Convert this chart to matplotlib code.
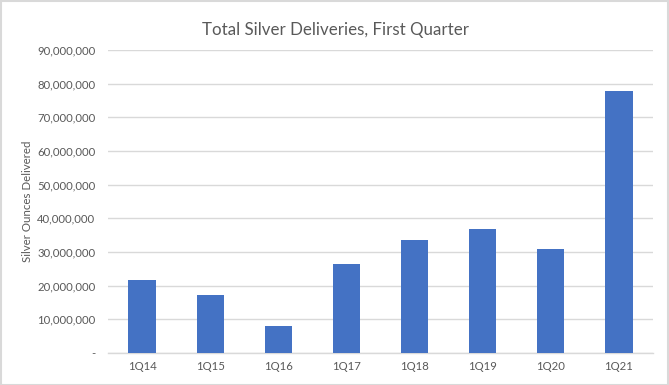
import numpy as np
import matplotlib.pyplot as plt
from matplotlib.ticker import FuncFormatter
from matplotlib.patches import Rectangle

# Data
quarters = ['1Q14', '1Q15', '1Q16', '1Q17', '1Q18', '1Q19', '1Q20', '1Q21']
ounces = [21800000, 17200000, 8100000, 26300000, 33700000, 36700000, 31000000, 77800000]
y_ticks = np.arange(0, 90000001, 10000000)

plt.rcParams['font.family'] = ['Lato', 'DejaVu Sans']
grey_text = '#595959'
grid_col = '#d9d9d9'

fig = plt.figure(figsize=(6.69, 3.85), dpi=100)
ax = fig.add_axes([0.1614, 0.0831, 0.8147, 0.7870])

x = np.arange(len(quarters))
ax.bar(x, ounces, width=0.4, color='#4472C4', zorder=3)

ax.set_xlim(-0.5, len(quarters) - 0.5)
ax.set_ylim(0, 90000000)
ax.set_yticks(y_ticks)
ax.set_xticks(x)
ax.set_xticklabels(quarters)

# excel style: zero shows as a dash
def fmt(v, pos):
    if v == 0:
        return '-'
    return f'{int(v):,}'
ax.yaxis.set_major_formatter(FuncFormatter(fmt))

ax.grid(axis='y', color=grid_col, linewidth=1, zorder=0)
for s in ['top', 'right', 'left']:
    ax.spines[s].set_visible(False)
ax.spines['bottom'].set_color(grid_col)
ax.spines['bottom'].set_linewidth(1)

ax.tick_params(axis='y', length=0, pad=9, labelsize=8.2, labelcolor=grey_text)
ax.tick_params(axis='x', length=0, pad=6, labelsize=8.2, labelcolor=grey_text)

ax.set_ylabel('Silver Ounces Delivered', fontsize=8.3, color=grey_text)
ax.yaxis.set_label_coords(-0.138, 0.5)
fig.text(0.5015, 0.922, 'Total Silver Deliveries, First Quarter', ha='center', va='center',
         fontsize=12.2, color=grey_text)

# light frame around the whole chart
fig.patches.append(Rectangle((0.001, 0.001), 0.997, 0.997, transform=fig.transFigure,
                             fill=False, edgecolor='#d9d9d9', linewidth=1.5))

fig.savefig('out.png', dpi=100)
